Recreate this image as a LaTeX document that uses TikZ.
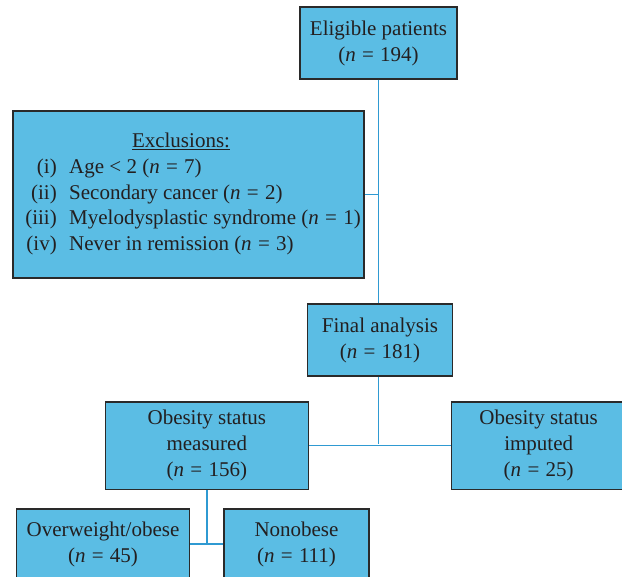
\documentclass[tikz,border=0pt]{standalone}
\usepackage{fontspec}
\setmainfont{Liberation Serif}
\definecolor{boxfill}{HTML}{5BBDE4}
\definecolor{boxline}{HTML}{2A2A2A}
\definecolor{conn}{HTML}{2F9AD2}
\definecolor{txt}{HTML}{231F20}
\tikzset{
  flowbox/.style={draw=boxline, line width=1.5pt, fill=boxfill, text=txt,
    align=center, inner sep=0pt, font=\fontsize{21}{26}\selectfont},
  conline/.style={draw=conn, line width=1.6pt},
  exltxt/.style={text=txt, inner sep=0pt, font=\fontsize{21}{26}\selectfont}
}
\newcommand{\nn}{\textit{n}}
\newcommand{\eqq}{\hspace{0.3em}=\hspace{0.3em}}
\begin{document}
\begin{tikzpicture}[x=1pt,y=-1pt]
\useasboundingbox (0,0) rectangle (622,577);
\clip (0,0) rectangle (622,577);
% boxes
\node[flowbox, minimum width=157pt, minimum height=72pt] (elig) at (378.5,43) {Eligible patients\\(\nn\eqq194)};
\node[flowbox, minimum width=351pt, minimum height=167pt] (excl) at (188.5,194.5) {};
\node[flowbox, minimum width=144.6pt, minimum height=71.7pt] (final) at (380,340) {Final analysis\\(\nn\eqq181)};
\node[flowbox, minimum width=203pt, minimum height=87.3pt] (meas) at (206.8,445.7) {Obesity status\\measured\\(\nn\eqq156)};
\node[flowbox, minimum width=174pt, minimum height=87.3pt] (imp) at (538.7,445.7) {Obesity status\\imputed\\(\nn\eqq25)};
\node[flowbox, minimum width=172.6pt, minimum height=70pt] (over) at (103,544) {Overweight/obese\\(\nn\eqq45)};
\node[flowbox, minimum width=145pt, minimum height=70pt] (non) at (296.5,544) {Nonobese\\(\nn\eqq111)};
% exclusion text
\node[exltxt, anchor=base] (exttl) at (181,148) {\underline{Exclusions:}};
\node[exltxt, anchor=base east] (l1) at (57,174) {(i)};
\node[exltxt, anchor=base east] (l2) at (57,200) {(ii)};
\node[exltxt, anchor=base east] (l3) at (57,225) {(iii)};
\node[exltxt, anchor=base east] (l4) at (57,251) {(iv)};
\node[exltxt, anchor=base west] (t1) at (69,174) {Age < 2 (\nn\eqq7)};
\node[exltxt, anchor=base west] (t2) at (69,200) {Secondary cancer (\nn\eqq2)};
\node[exltxt, anchor=base west] (t3) at (69,225) {Myelodysplastic syndrome (\nn\eqq1)};
\node[exltxt, anchor=base west] (t4) at (69,251) {Never in remission (\nn\eqq3)};
% connectors
\coordinate (j1) at (378.5,194.5);
\coordinate (j2) at (378.5,444.5);
\coordinate (j3) at (206.8,544.5);
\draw[conline] (elig.south -| j1) -- (j1) -- (final.north -| j1);
\draw[conline] (j1) -- (excl.east);
\draw[conline] (final.south -| j2) -- (j2);
\draw[conline] (meas.east) -- (imp.west);
\draw[conline] (meas.south) -- (j3);
\draw[conline] (over.east) -- (non.west);
\end{tikzpicture}
\end{document}
